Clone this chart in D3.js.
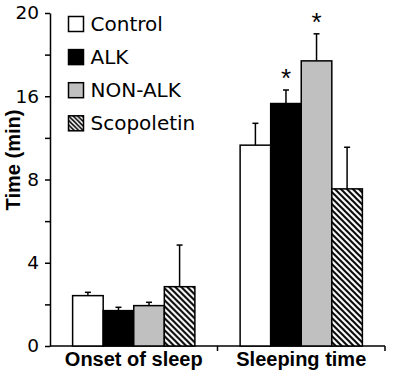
<!DOCTYPE html>
<html>
<head>
<meta charset="utf-8">
<script src="https://cdn.jsdelivr.net/npm/d3@7"></script>
<style>
	body { margin: 0; background: #fff; }
	svg { display: block; }
</style>
</head>
<body>
<svg id="chart" width="397" height="377"></svg>
<script>
var groups = ['Onset of sleep', 'Sleeping time'];
var series = ['Control', 'ALK', 'NON-ALK', 'Scopoletin'];
var means = [
	[2.42, 1.70, 1.94, 2.85],
	[11.3, 15.3, 17.7, 7.55]
];
var errors = [
	[0.16, 0.16, 0.16, 2.0],
	[2.1, 1.0, 1.3, 3.55]
];
var stars = [
	[false, false, false, false],
	[false, true, true, false]
];
// the printed axis has uneven labels at even spacing
var y_ticks = [0, 4, 8, 16, 20];
var y_minor = [2, 6, 12, 18];
var fills = ['#ffffff', '#000000', '#c0c0c0', 'url(#hatch)'];
var legend_fills = ['#ffffff', '#000000', '#c0c0c0', 'url(#hatch_small)'];

var svg = d3.select('#chart');
var defs = svg.append('defs');
function add_hatch(id, s, w)  {
	var pat = defs.append('pattern').attr('id', id).attr('patternUnits', 'userSpaceOnUse')
		.attr('width', s).attr('height', s);
	pat.append('rect').attr('width', s).attr('height', s).attr('fill', '#fff');
	pat.append('path').attr('d', 'M0,0L' + s + ',' + s + 'M-2,' + (s-2) + 'L2,' + (s+2) + 'M' + (s-2) + ',-2L' + (s+2) + ',2')
		.attr('stroke', '#000').attr('stroke-width', w);
}
add_hatch('hatch', 6, 2);
add_hatch('hatch_small', 4.5, 1.6);

var m_left = 50, m_right = 385, m_top = 13, m_bottom = 346;

var y_scale = d3.scaleLinear().domain(y_ticks)
	.range(y_ticks.map((d, i) => m_bottom - i*(m_bottom-m_top)/(y_ticks.length-1)));
var x0 = d3.scaleBand().domain(groups).range([m_left, m_right]).padding(0);
var x1 = d3.scaleBand().domain(series).range([0, x0.bandwidth()]).paddingInner(0).paddingOuter(0.74);

// y axis
var y_axis = d3.axisLeft(y_scale).tickValues(y_ticks.concat(y_minor)).tickSize(5).tickSizeOuter(0).tickPadding(6)
	.tickFormat(d => y_ticks.indexOf(d) >= 0 ? d : '');
var gy = svg.append('g').attr('transform', 'translate(' + m_left + ',0)').call(y_axis);
gy.selectAll('text').attr('font-family', 'DejaVu Sans').attr('font-size', 18.5).attr('fill', '#000');
gy.selectAll('line, path').attr('stroke', '#000').attr('stroke-width', 1.5);

// x axis line with ticks at group boundaries
svg.append('line').attr('x1', m_left).attr('x2', m_right).attr('y1', m_bottom).attr('y2', m_bottom)
	.attr('stroke', '#000').attr('stroke-width', 1.5);
svg.selectAll('.xtick').data(groups).enter().append('line').attr('class', 'xtick')
	.attr('x1', d => x0(d) + x0.bandwidth()).attr('x2', d => x0(d) + x0.bandwidth())
	.attr('y1', m_bottom).attr('y2', m_bottom + 5).attr('stroke', '#000').attr('stroke-width', 1.5);
svg.selectAll('.xlabel').data(groups).enter().append('text').attr('class', 'xlabel')
	.attr('x', d => x0(d) + x0.bandwidth()/2).attr('y', 366)
	.attr('text-anchor', 'middle').attr('font-family', 'Liberation Sans').attr('font-weight', 'bold')
	.attr('font-size', 20).text(d => d);

svg.append('text').attr('transform', 'translate(20,160) rotate(-90)')
	.attr('text-anchor', 'middle').attr('font-family', 'Liberation Sans').attr('font-weight', 'bold')
	.attr('font-size', 20).text('Time (min)');

// bars
var bar_data = [];
groups.forEach(function(g, gi) {
	series.forEach(function(s, si) {
		bar_data.push({group: g, series: s, si: si, value: means[gi][si], err: errors[gi][si], star: stars[gi][si]});
	});
});

var bars = svg.selectAll('.bar').data(bar_data).enter().append('g').attr('class', 'bar')
	.attr('transform', d => 'translate(' + (x0(d.group) + x1(d.series)) + ',0)');
var bw = x1.bandwidth();

bars.append('line')
	.attr('x1', bw/2).attr('x2', bw/2)
	.attr('y1', d => y_scale(d.value)).attr('y2', d => y_scale(d.value + d.err))
	.attr('stroke', '#000').attr('stroke-width', 1.5);
bars.append('line')
	.attr('x1', bw/2 - 3).attr('x2', bw/2 + 3)
	.attr('y1', d => y_scale(d.value + d.err)).attr('y2', d => y_scale(d.value + d.err))
	.attr('stroke', '#000').attr('stroke-width', 1.5);
bars.append('rect')
	.attr('x', 0).attr('width', bw)
	.attr('y', d => y_scale(d.value)).attr('height', d => m_bottom - y_scale(d.value))
	.attr('fill', d => fills[d.si]).attr('stroke', '#000').attr('stroke-width', 1.5);
bars.filter(d => d.star).append('text')
	.attr('x', bw/2).attr('y', d => y_scale(d.value + d.err) - 3)
	.attr('text-anchor', 'middle').attr('font-family', 'Liberation Sans').attr('font-size', 26)
	.text('*');

// legend
var legend = svg.selectAll('.legend').data(series).enter().append('g').attr('class', 'legend')
	.attr('transform', (d, i) => 'translate(68.5,' + (16.5 + i*33.1) + ')');
legend.append('rect').attr('width', 15).attr('height', 15)
	.attr('fill', (d, i) => legend_fills[i]).attr('stroke', '#000').attr('stroke-width', 1.5);
legend.append('text').attr('x', 22).attr('y', 14)
	.attr('font-family', 'DejaVu Sans').attr('font-size', 20).text(d => d);
</script>
</body>
</html>
